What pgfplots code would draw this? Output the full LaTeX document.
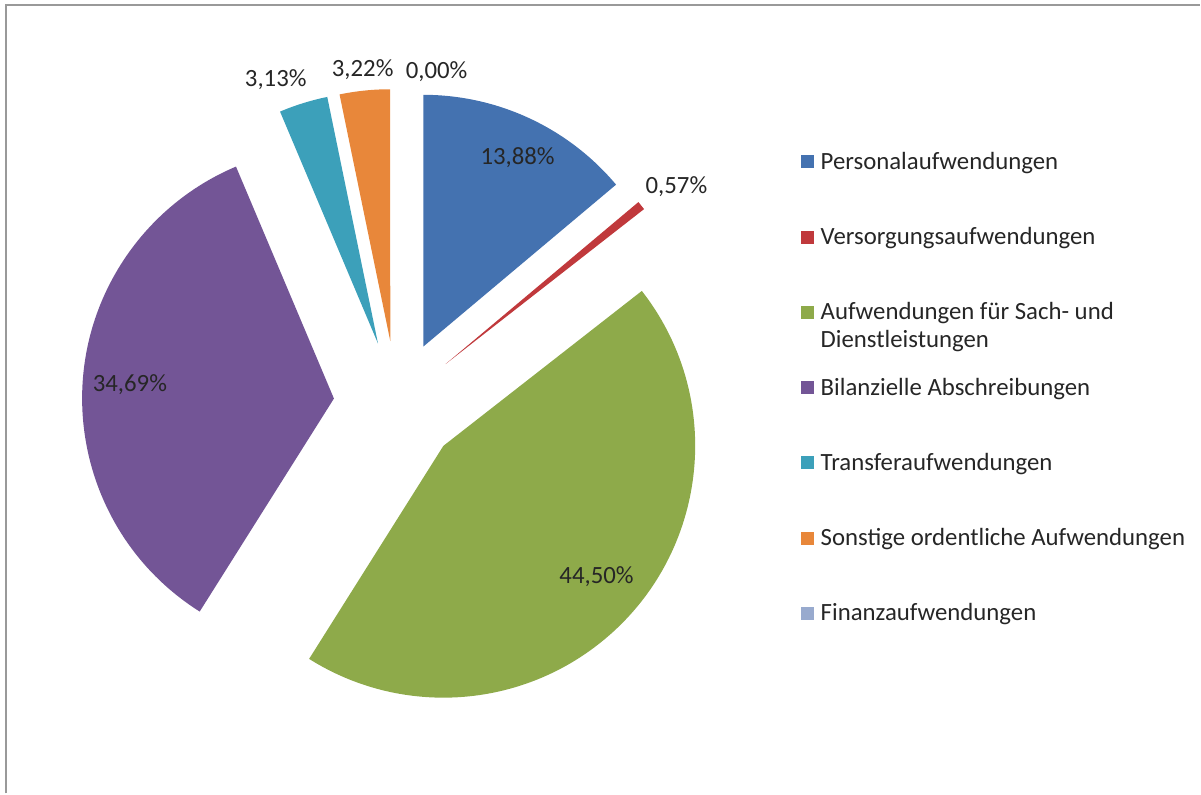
\documentclass[border=0pt]{standalone}
\usepackage{pgfplots}
\pgfplotsset{compat=1.18}
\usepackage{pgfplotstable}
\usepackage{fontspec}
\setmainfont{Carlito}

\definecolor{c1}{HTML}{4472B0}
\definecolor{c2}{HTML}{C0393C}
\definecolor{c3}{HTML}{8EAA4A}
\definecolor{c4}{HTML}{735596}
\definecolor{c5}{HTML}{3CA0BA}
\definecolor{c6}{HTML}{E8873A}
\definecolor{c7}{HTML}{98AACE}

% share in percent, label position (pixels), colour
\pgfplotstableread[col sep=comma]{
value,lx,ly,color
13.88,518,158,c1
0.57,677,187,c2
44.50,597,577,c3
34.69,130,385,c4
3.13,276,80,c5
3.22,363,70,c6
0.00,437,72,c7
}\piedata

\pgfkeys{/pgf/number format/.cd, fixed, fixed zerofill, precision=2, use comma, assume math mode=true}
\newcommand\lbl{\fontsize{12.4pt}{14pt}\selectfont}

\begin{document}
\begin{tikzpicture}
\begin{axis}[
    scale only axis,
    width=600.5pt, height=397pt,
    xmin=0, xmax=1201, ymin=0, ymax=794,
    y dir=reverse,
    hide axis,
    clip=false,
]
\addplot[draw=none] coordinates {(0,0) (1201,794)};
% frame (only top and left edge visible)
\draw[gray!80, line width=1pt] (axis cs:6,794) -- (axis cs:6,5) -- (axis cs:1201,5);
\pgfplotsextra{
  \pgfplotstablegetrowsof{\piedata}
  \pgfmathtruncatemacro\nrows{\pgfplotsretval-1}
  \gdef\cum{0}
  \foreach \i in {0,...,\nrows}{
    \pgfplotstablegetelem{\i}{value}\of\piedata \let\v\pgfplotsretval
    \pgfplotstablegetelem{\i}{lx}\of\piedata \let\lx\pgfplotsretval
    \pgfplotstablegetelem{\i}{ly}\of\piedata \let\ly\pgfplotsretval
    \pgfplotstablegetelem{\i}{color}\of\piedata \let\col\pgfplotsretval
    \pgfmathsetmacro\aa{90-3.6*\cum}
    \pgfmathsetmacro\ab{90-3.6*(\cum+\v)}
    \pgfmathsetmacro\am{(\aa+\ab)/2}
    \pgfmathsetmacro\tx{397+63*cos(\am)}
    \pgfmathsetmacro\ty{404-63*sin(\am)}
    \ifdim\v pt>0pt
      \fill[\col] (axis cs:\tx,\ty) -- ++(\aa:126pt)
        arc[start angle=\aa, end angle=\ab, radius=126pt] -- cycle;
    \fi
    \node[font=\lbl, text=black!85, inner sep=0pt] at (axis cs:\lx,\ly) {\pgfmathprintnumber{\v}\%};
    \pgfmathsetmacro\c{\cum+\v}
    \xdef\cum{\c}
  }
  % legend
  \foreach \n/\m/\col [count=\k from 0] in {
      Personalaufwendungen//c1,
      Versorgungsaufwendungen//c2,
      Aufwendungen für Sach- und/Dienstleistungen/c3,
      Bilanzielle Abschreibungen//c4,
      Transferaufwendungen//c5,
      Sonstige ordentliche Aufwendungen//c6,
      Finanzaufwendungen//c7}{
    \pgfmathsetmacro\yy{162+75.3*\k}
    \pgfmathsetmacro\yb{\yy+7.5}
    \pgfmathsetmacro\yc{\yb+28}
    \node[fill=\col, minimum size=6.5pt, inner sep=0pt] at (axis cs:808,\yy) {};
    \node[font=\lbl, text=black!85, anchor=base west, inner sep=0pt] at (axis cs:821,\yb) {\n};
    \node[font=\lbl, text=black!85, anchor=base west, inner sep=0pt] at (axis cs:821,\yc) {\m};
  }
}
\end{axis}
\end{tikzpicture}
\end{document}
